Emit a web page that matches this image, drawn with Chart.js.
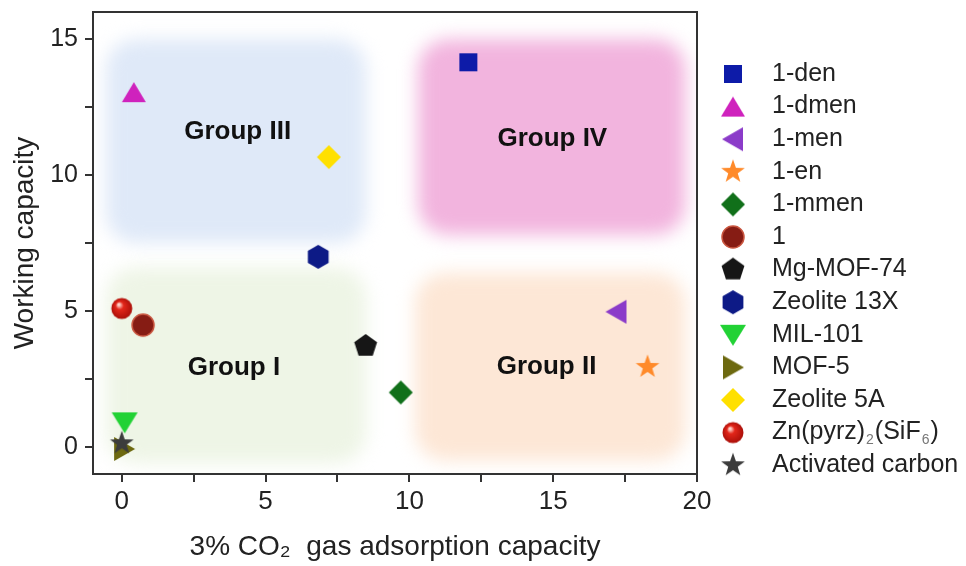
<!DOCTYPE html>
<html>
<head>
<meta charset="utf-8">
<script src="https://cdn.jsdelivr.net/npm/chart.js@4.4.1/dist/chart.umd.min.js"></script>
<style>
  html, body { margin: 0; background: #fff; }
  #wrap { width: 966px; height: 566px; }
</style>
</head>
<body>
<div id="wrap"><canvas id="chart"></canvas></div>
<script>
const FONT = '"Liberation Sans", Arial, Helvetica, sans-serif';
const INK = "#222";
const AXIS = "#333";

// values
const SERIES = [
  "1-den", "1-dmen", "1-men", "1-en", "1-mmen", "1", "Mg-MOF-74",
  "Zeolite 13X", "MIL-101", "MOF-5", "Zeolite 5A", "Zn(pyrz)₂(SiF₆)", "Activated carbon"
];
const CO2_CAPACITY = [12.05, 0.42, 17.2, 18.28, 9.7, 0.74, 8.48, 6.83, 0.1, 0.08, 7.2, 0.0, 0.0];
const WORKING_CAPACITY = [14.15, 13.05, 4.97, 2.94, 2.0, 4.48, 3.71, 6.99, 0.9, -0.08, 10.66, 5.09, 0.13];

const X_TICKS = [0, 2.5, 5, 7.5, 10, 12.5, 15, 17.5, 20];
const Y_TICKS = [0, 2.5, 5, 7.5, 10, 12.5, 15];

const GROUP_NAMES = ["Group I", "Group II", "Group III", "Group IV"];
const GROUP_LABEL_X = [3.9, 14.77, 4.03, 14.97];
const GROUP_LABEL_Y = [2.9, 2.94, 11.58, 11.34];
const GROUP_BOX_X = [[-0.55, 8.5], [10.2, 19.6], [-0.55, 8.5], [10.3, 19.6]];
const GROUP_BOX_Y = [[-0.6, 6.6], [-0.5, 6.4], [7.5, 15.0], [7.8, 15.0]];
const GROUP_COLORS = ["#eef5e6", "#fde7d6", "#dfe9f8", "#f2b4de"];

// marker shape + colour per series
const MARKERS = [
  ["square", "#0d1ba8"],
  ["triangle", "#cf22bd"],
  ["triangleLeft", "#8b3bc9"],
  ["star", "#ff8a2a"],
  ["diamond", "#11701a"],
  ["circle", "#861c14"],
  ["pentagon", "#161616"],
  ["hexagon", "#0d1a86"],
  ["triangleDown", "#22d235"],
  ["triangleRight", "#6d6910"],
  ["diamond", "#ffe000"],
  ["sphere", "#e3261a"],
  ["star", "#3c3c3c"]
];

function polygon(g, n, r, start) {
  g.beginPath();
  for (let i = 0; i < n; i++) {
    const a = start + i * 2 * Math.PI / n;
    g.lineTo(r * Math.cos(a), r * Math.sin(a));
  }
  g.closePath();
}

function makeMarker(shape, color) {
  const c = document.createElement("canvas");
  c.width = c.height = 28;
  const g = c.getContext("2d");
  g.translate(14, 14);
  g.fillStyle = color;
  g.beginPath();
  switch (shape) {
    case "square": g.rect(-9, -9, 18, 18); break;
    case "triangle": g.moveTo(0, -10); g.lineTo(12, 10); g.lineTo(-12, 10); g.closePath(); break;
    case "triangleDown": g.moveTo(0, 11); g.lineTo(13, -10); g.lineTo(-13, -10); g.closePath(); break;
    case "triangleLeft": g.moveTo(-11, 0); g.lineTo(10, -12); g.lineTo(10, 12); g.closePath(); break;
    case "triangleRight": g.moveTo(11, 0); g.lineTo(-10, -12); g.lineTo(-10, 12); g.closePath(); break;
    case "diamond": g.moveTo(0, -12); g.lineTo(12, 0); g.lineTo(0, 12); g.lineTo(-12, 0); g.closePath(); break;
    case "pentagon": polygon(g, 5, 12, -Math.PI / 2); break;
    case "hexagon": polygon(g, 6, 12, -Math.PI / 2); break;
    case "star":
      for (let i = 0; i < 10; i++) {
        const r = i % 2 ? 5 : 12.5;
        const a = -Math.PI / 2 + i * Math.PI / 5;
        g.lineTo(r * Math.cos(a), r * Math.sin(a));
      }
      g.closePath();
      break;
    case "circle": g.arc(0, 0, 11, 0, 2 * Math.PI); break;
    case "sphere": {
      const grad = g.createRadialGradient(-3, -4, 1, 0, 0, 11);
      grad.addColorStop(0, "#ffd0c8");
      grad.addColorStop(0.3, color);
      grad.addColorStop(1, "#a80e08");
      g.fillStyle = grad;
      g.arc(0, 0, 10.5, 0, 2 * Math.PI);
      break;
    }
  }
  g.fill();
  if (shape === "circle") {
    g.lineWidth = 1.5;
    g.strokeStyle = "#c9553f";
    g.stroke();
  }
  return c;
}

const markerImgs = MARKERS.map(m => makeMarker(m[0], m[1]));

const datasets = SERIES.map((name, i) => ({
  label: name,
  data: [{ x: CO2_CAPACITY[i], y: WORKING_CAPACITY[i] }],
  pointStyle: markerImgs[i],
  pointRadius: 11,
  backgroundColor: MARKERS[i][1],
  borderColor: MARKERS[i][1],
  order: name === "Activated carbon" ? -1 : 0
}));

// draws text, turning unicode subscript digits into small lowered digits
function richText(ctx, text, x, y, size) {
  const SUB = "₀₁₂₃₄₅₆₇₈₉";
  let cx = x;
  let run = "";
  const flush = () => {
    if (!run) return;
    ctx.font = `${size}px ${FONT}`;
    ctx.fillText(run, cx, y);
    cx += ctx.measureText(run).width;
    run = "";
  };
  for (const ch of text) {
    const k = SUB.indexOf(ch);
    if (k < 0) { run += ch; continue; }
    flush();
    ctx.font = `${Math.round(size * 0.55)}px ${FONT}`;
    ctx.fillStyle = "#777";
    ctx.fillText(String(k), cx + 1, y + size * 0.32);
    cx += ctx.measureText(String(k)).width + 2;
    ctx.fillStyle = INK;
  }
  flush();
}

const groupsPlugin = {
  id: "groups",
  beforeDatasetsDraw(chart) {
    const { ctx, chartArea: a, scales: { x, y } } = chart;
    ctx.save();
    ctx.beginPath();
    ctx.rect(a.left, a.top, a.width, a.height);
    ctx.clip();
    ctx.filter = "blur(9px)";
    GROUP_NAMES.forEach((_, i) => {
      const x0 = x.getPixelForValue(GROUP_BOX_X[i][0]);
      const x1 = x.getPixelForValue(GROUP_BOX_X[i][1]);
      const y0 = y.getPixelForValue(GROUP_BOX_Y[i][1]);
      const y1 = y.getPixelForValue(GROUP_BOX_Y[i][0]);
      ctx.fillStyle = GROUP_COLORS[i];
      ctx.beginPath();
      ctx.roundRect(x0, y0, x1 - x0, y1 - y0, 30);
      ctx.fill();
    });
    ctx.filter = "none";
    ctx.fillStyle = "#111";
    ctx.font = `bold 26px ${FONT}`;
    ctx.textAlign = "center";
    ctx.textBaseline = "middle";
    GROUP_NAMES.forEach((name, i) => {
      ctx.fillText(name, x.getPixelForValue(GROUP_LABEL_X[i]), y.getPixelForValue(GROUP_LABEL_Y[i]));
    });
    ctx.restore();

    // box frame
    ctx.save();
    ctx.strokeStyle = AXIS;
    ctx.lineWidth = 2;
    ctx.strokeRect(a.left, a.top, a.width, a.height);
    ctx.restore();
  }
};

const legendPlugin = {
  id: "sideLegend",
  afterDraw(chart) {
    const { ctx, chartArea: a } = chart;
    ctx.save();
    ctx.textAlign = "left";
    ctx.textBaseline = "middle";
    ctx.fillStyle = INK;
    SERIES.forEach((name, i) => {
      const yy = 74 + i * 32.6;
      const img = markerImgs[i];
      ctx.drawImage(img, a.right + 36 - img.width / 2, yy - img.height / 2);
      richText(ctx, name, a.right + 75, yy, 25);
    });
    ctx.restore();
  }
};

new Chart(document.getElementById("chart"), {
  type: "scatter",
  data: { datasets },
  options: {
    responsive: true,
    maintainAspectRatio: false,
    animation: false,
    events: [],
    layout: { padding: { top: 12, right: 269, left: 0, bottom: 0 } },
    plugins: {
      legend: { display: false },
      tooltip: { enabled: false }
    },
    scales: {
      x: {
        type: "linear",
        min: -1,
        max: 20,
        afterBuildTicks: s => { s.ticks = X_TICKS.map(v => ({ value: v })); },
        afterFit: s => { s.height = 92; s.paddingLeft = 0; s.paddingRight = 0; },
        grid: { drawOnChartArea: false, drawTicks: true, tickLength: 8, color: AXIS, lineWidth: 2 },
        border: { color: AXIS, width: 2 },
        ticks: {
          autoSkip: false, maxRotation: 0, padding: 4, color: INK,
          font: { family: FONT, size: 26 },
          callback: v => (v % 5 === 0 ? String(v) : "")
        },
        title: {
          display: true, text: "3% CO₂  gas adsorption capacity", color: INK,
          font: { family: FONT, size: 28 }, padding: { top: 0, bottom: 2 }
        }
      },
      y: {
        type: "linear",
        min: -1,
        max: 16,
        afterBuildTicks: s => { s.ticks = Y_TICKS.map(v => ({ value: v })); },
        afterFit: s => { s.width = 93; s.paddingTop = 0; s.paddingBottom = 0; },
        grid: { drawOnChartArea: false, drawTicks: true, tickLength: 8, color: AXIS, lineWidth: 2 },
        border: { color: AXIS, width: 2 },
        ticks: {
          autoSkip: false, padding: 7, color: INK,
          font: { family: FONT, size: 25 },
          callback: v => (v % 5 === 0 ? String(v) : "")
        },
        title: {
          display: true, text: "Working capacity", color: INK,
          font: { family: FONT, size: 28 }, padding: { top: 8, bottom: 0 }
        }
      }
    }
  },
  plugins: [groupsPlugin, legendPlugin]
});
</script>
</body>
</html>
